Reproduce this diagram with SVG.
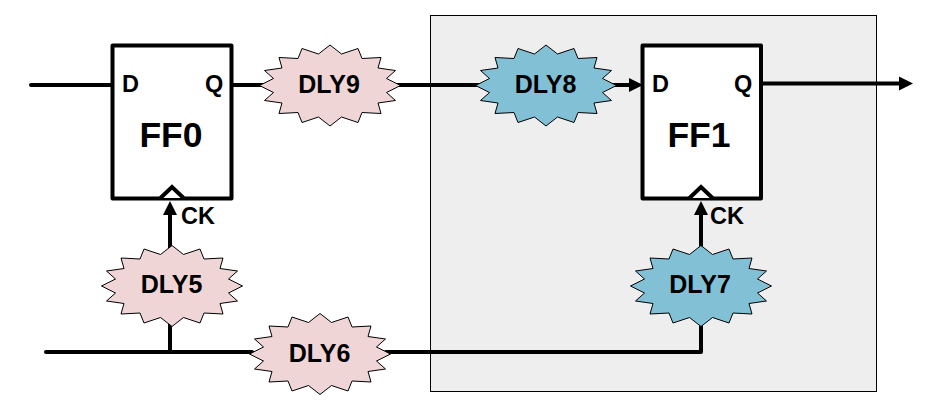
<svg xmlns="http://www.w3.org/2000/svg" width="928" height="416" viewBox="0 0 928 416">
<style>
text{font-family:"Liberation Sans",Arial,sans-serif;font-weight:700;fill:#000}
.wire{fill:none;stroke:#000;stroke-width:4;stroke-linecap:round;stroke-linejoin:round}
.ff{fill:#fff;stroke:#000;stroke-width:4;stroke-linejoin:round}
.clk{fill:#fff;stroke:#000;stroke-width:4;stroke-linejoin:miter}
.star{stroke:#000;stroke-width:1;stroke-linejoin:miter;stroke-miterlimit:12}
.pink{fill:#efd5d5}
.blue{fill:#82c0d6}
.pin{font-size:23.500px}
.title{font-size:35.500px;text-anchor:middle}
.dly{font-size:25px;text-anchor:middle}
</style>
<defs>
<polygon id="burst" points="0,-40.500 11.500,-31.500 28,-37 32,-27 51,-28 48,-17.500 65.500,-15 56.500,-7 70.500,0 56.500,7 65.500,15 48,17.500 51,28 32,27 28,37 11.500,31.500 0,40.500 -11.500,31.500 -28,37 -32,27 -51,28 -48,17.500 -65.500,15 -56.500,7 -70.500,0 -56.500,-7 -65.500,-15 -48,-17.500 -51,-28 -32,-27 -28,-37 -11.500,-31.500"/>
<marker id="arrow" markerUnits="userSpaceOnUse" markerWidth="15" markerHeight="16" refX="1" refY="7.5" orient="auto">
<path d="M0,0.5 L14,7.5 L0,14.5 Z" fill="#000"/>
</marker>
</defs>
<rect id="region" x="430.500" y="15.500" width="446" height="376" fill="#eeeeee" stroke="#000" stroke-width="1"/>
<g id="connectors">
<path class="wire" d="M31,85H112"/>
<path class="wire" d="M232,85H264"/>
<path class="wire" d="M396,85H480"/>
<path class="wire" style="stroke-linecap:butt" d="M612,85H630" marker-end="url(#arrow)"/>
<path class="wire" style="stroke-linecap:butt" d="M761,83.500H900" marker-end="url(#arrow)"/>
<path class="wire" style="stroke-linecap:butt" d="M170,250V214" marker-end="url(#arrow)"/>
<path class="wire" style="stroke-linecap:butt" d="M701,250V214" marker-end="url(#arrow)"/>
<path class="wire" d="M46,352H252"/>
<path class="wire" d="M170,322V352"/>
<path class="wire" d="M386,352H701V322"/>
</g>
<g id="FF0">
<rect class="ff" x="112.500" y="45.500" width="119" height="153"/>
<path class="clk" d="M160.500,198 L172,187 L183.500,198"/>
<text class="pin" x="122" y="92">D</text>
<text class="pin" x="205" y="92">Q</text>
<text class="title" x="171" y="147">FF0</text>
<text class="pin" x="181" y="224">CK</text>
</g>
<g id="FF1">
<rect class="ff" x="642.500" y="45.500" width="118.500" height="153"/>
<path class="clk" d="M689.500,198 L701,187 L712.500,198"/>
<text class="pin" x="652" y="92">D</text>
<text class="pin" x="734" y="92">Q</text>
<text class="title" x="699" y="147">FF1</text>
<text class="pin" x="710" y="224">CK</text>
</g>
<g id="DLY9"><use href="#burst" class="star pink" x="330" y="85.500"/><text class="dly" x="329" y="93">DLY9</text></g>
<g id="DLY8"><use href="#burst" class="star blue" x="546" y="85.500"/><text class="dly" x="545.500" y="93">DLY8</text></g>
<g id="DLY5"><use href="#burst" class="star pink" x="172" y="286"/><text class="dly" x="171.500" y="293">DLY5</text></g>
<g id="DLY6"><use href="#burst" class="star pink" x="320" y="354"/><text class="dly" x="319.500" y="362">DLY6</text></g>
<g id="DLY7"><use href="#burst" class="star blue" x="701" y="286"/><text class="dly" x="700" y="293">DLY7</text></g>
</svg>
